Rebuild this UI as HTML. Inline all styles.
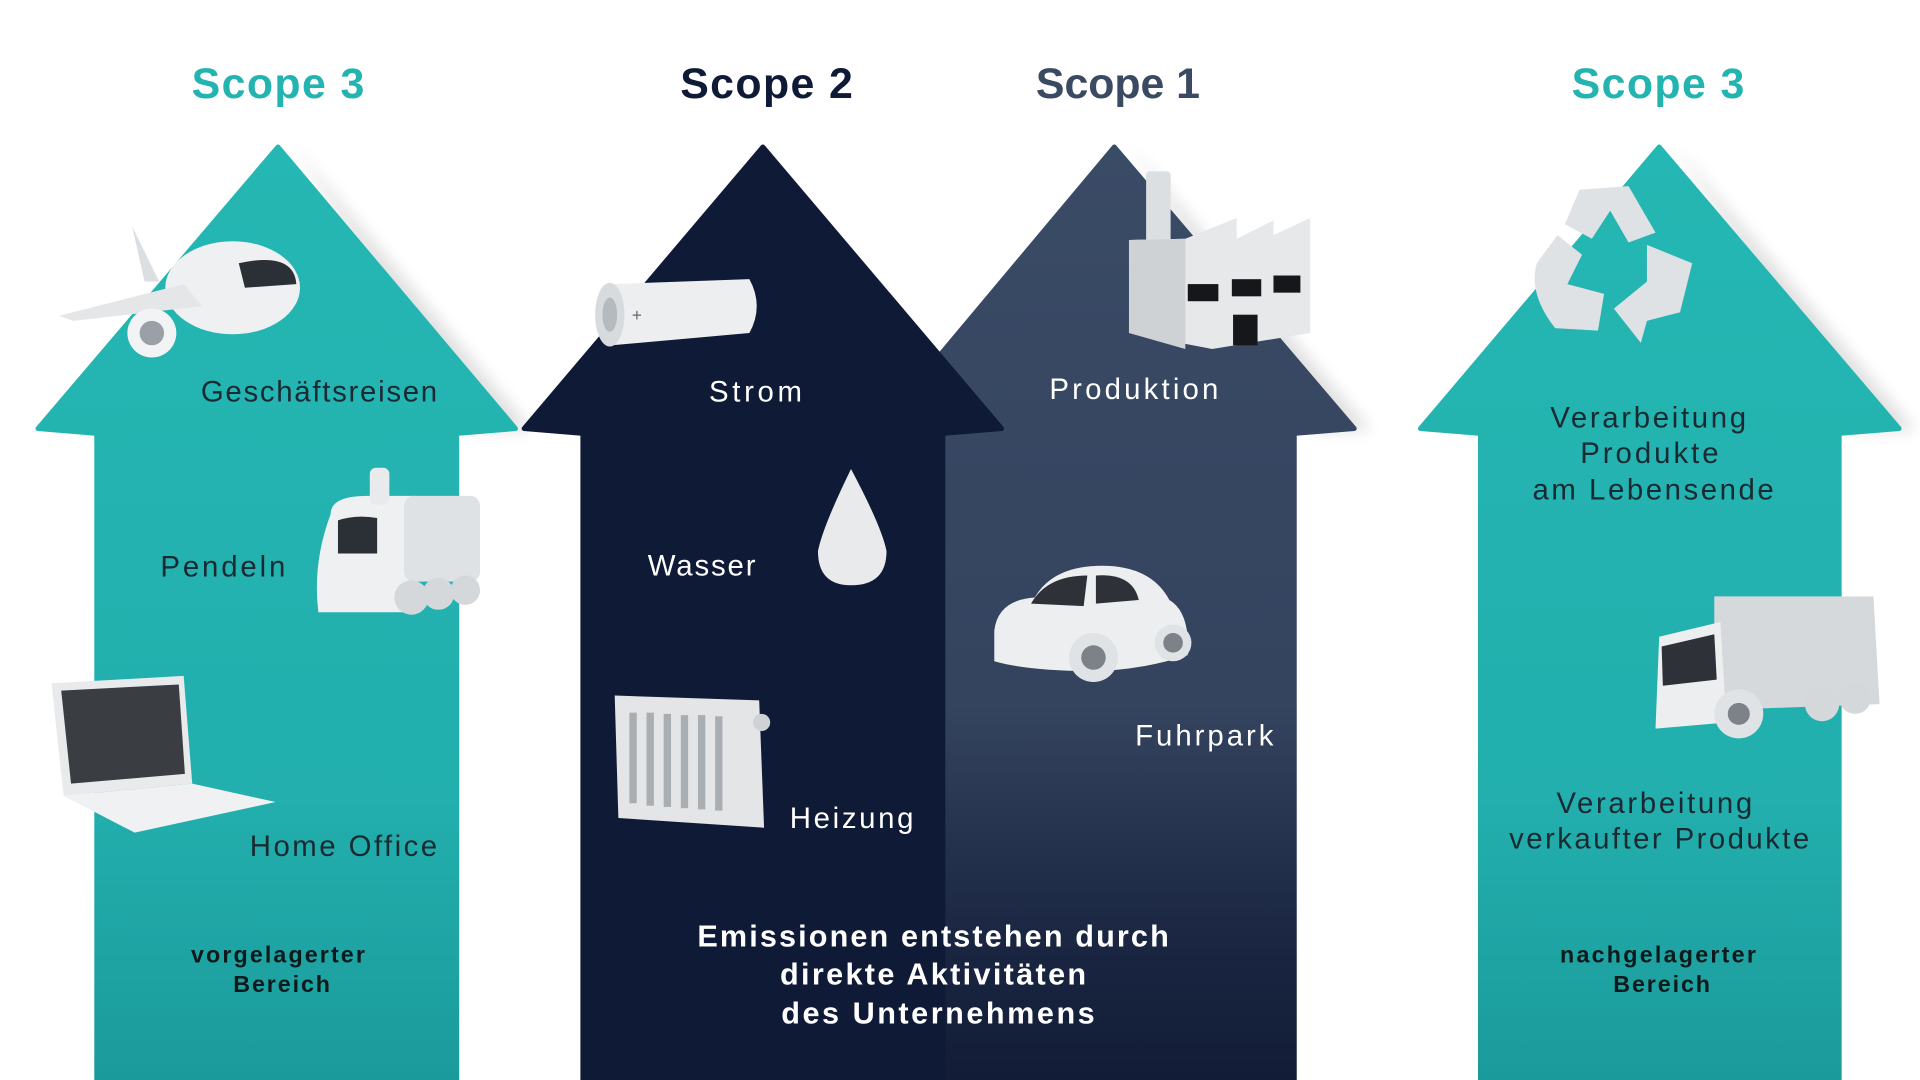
<!DOCTYPE html>
<html><head><meta charset="utf-8"><style>
html,body{margin:0;padding:0;background:#fff;width:1920px;height:1080px;overflow:hidden}
svg{display:block}
text{font-family:"Liberation Sans",sans-serif}
</style></head><body>
<svg width="1920" height="1080" viewBox="0 0 1568 882" preserveAspectRatio="none">
<defs>
<linearGradient id="teal" x1="0" y1="0" x2="0" y2="1">
<stop offset="0" stop-color="#25b7b3"/><stop offset="0.7" stop-color="#22afad"/><stop offset="1" stop-color="#1b9a9b"/></linearGradient>
<linearGradient id="s1" x1="0" y1="0" x2="0" y2="1">
<stop offset="0" stop-color="#3a4b66"/><stop offset="0.6" stop-color="#34435e"/><stop offset="0.85" stop-color="#1a2642"/><stop offset="1" stop-color="#121c36"/></linearGradient>
<filter id="sh" x="-20%" y="-20%" width="140%" height="140%"><feGaussianBlur stdDeviation="6"/></filter>
</defs>
<g fill="#000" opacity="0.12" filter="url(#sh)">
<path d="M239 118 L435 352 L385 352 Z"/>
<path d="M922 118 L1120 352 L1070 352 Z"/>
<path d="M1367 118 L1565 352 L1515 352 Z"/>
</g>
<path d="M227 120 L421 350 L373 354 L373 882 L79 882 L79 354 L31 350 Z" fill="url(#teal)" stroke="url(#teal)" stroke-width="4" stroke-linejoin="round"/>
<path d="M910 120 L1106 350 L1057 354 L1057 882 L770 882 L770 354 L714 354 Z" fill="url(#s1)" stroke="url(#s1)" stroke-width="4" stroke-linejoin="round"/>
<path d="M623 120 L818 350 L770 354 L770 882 L476 882 L476 354 L428 350 Z" fill="#0f1a36" stroke="#0f1a36" stroke-width="4" stroke-linejoin="round"/>
<path d="M1355 120 L1551 350 L1502 354 L1502 882 L1209 882 L1209 354 L1160 350 Z" fill="url(#teal)" stroke="url(#teal)" stroke-width="4" stroke-linejoin="round"/>

<g font-weight="bold" font-size="35" text-anchor="middle" lengthAdjust="spacingAndGlyphs">
<text x="227" y="80" fill="#23b3b0" textLength="141">Scope 3</text>
<text x="626" y="80" fill="#0f1a36" textLength="141">Scope 2</text>
<text x="913" y="80" fill="#3a4a63" textLength="134">Scope 1</text>
<text x="1354" y="80" fill="#23b3b0" textLength="141">Scope 3</text>
</g>

<g>
<ellipse cx="190" cy="235" rx="55" ry="38" fill="#eef0f2"/>
<path d="M48 258 L150 232 L165 250 L60 262 Z" fill="#e4e6e8"/>
<path d="M108 185 L118 230 L130 230 Z" fill="#dcdfe2"/>
<path d="M195 215 Q240 205 242 232 L200 235 Z" fill="#2b2f36"/>
<circle cx="124" cy="272" r="20" fill="#f2f3f4"/><circle cx="124" cy="272" r="10" fill="#9aa0a6"/>
<path d="M270 420 Q270 405 300 405 L340 405 L340 500 L260 500 Q255 460 270 420 Z" fill="#eef0f2"/>
<rect x="302" y="382" width="16" height="30" rx="5" fill="#e8eaec"/>
<rect x="330" y="405" width="62" height="70" rx="8" fill="#dfe2e5"/>
<path d="M276 425 Q290 420 308 423 L308 452 L276 452 Z" fill="#2b2f36"/>
<circle cx="336" cy="488" r="14" fill="#d5d8db"/><circle cx="358" cy="485" r="13" fill="#d5d8db"/><circle cx="380" cy="482" r="12" fill="#d5d8db"/>
<path d="M42 558 L150 552 L157 640 L52 650 Z" fill="#e8eaec"/>
<path d="M50 564 L146 559 L151 632 L58 640 Z" fill="#3a3d42"/>
<path d="M52 650 L157 640 L225 655 L110 680 Z" fill="#f0f1f2"/>
<path d="M500 232 L612 228 Q624 250 612 272 L500 282 Z" fill="#eceef0"/>
<ellipse cx="498" cy="257" rx="12" ry="26" fill="#d8dbde"/>
<ellipse cx="498" cy="257" rx="6" ry="14" fill="#b5babf"/>
<text x="516" y="262" font-size="14" fill="#666">+</text>
<path d="M695 383 Q672 430 668 450 Q668 478 695 478 Q724 478 724 450 Q720 430 695 383 Z" fill="#e8eaec"/>
<path d="M502 568 L620 572 L624 676 L505 668 Z" fill="#e3e5e7"/>
<g fill="#a9aeb3"><rect x="514" y="582" width="6" height="74"/><rect x="528" y="582" width="6" height="76"/><rect x="542" y="583" width="6" height="76"/><rect x="556" y="584" width="6" height="76"/><rect x="570" y="584" width="6" height="77"/><rect x="584" y="585" width="6" height="77"/></g>
<circle cx="622" cy="590" r="7" fill="#cfd2d5"/>
<rect x="936" y="140" width="20" height="60" rx="3" fill="#dcdfe2"/>
<path d="M922 196 L968 195 L1010 178 L1010 195 L1040 180 L1040 192 L1070 178 L1070 272 L990 285 L922 272 Z" fill="#e6e8ea"/>
<path d="M922 196 L968 195 L968 285 L922 272 Z" fill="#cfd2d5"/>
<g fill="#15171a"><rect x="970" y="232" width="25" height="14"/><rect x="1006" y="228" width="24" height="14"/><rect x="1040" y="225" width="22" height="14"/><rect x="1007" y="257" width="20" height="25"/></g>
<path d="M812 515 Q815 490 845 488 Q860 462 900 462 Q940 462 955 490 Q972 500 970 535 Q930 548 890 548 Q840 548 812 540 Z" fill="#eceef0"/>
<path d="M842 493 Q855 470 888 470 L885 495 Z" fill="#2e3238"/>
<path d="M895 470 Q925 468 930 490 L895 493 Z" fill="#2e3238"/>
<circle cx="893" cy="537" r="20" fill="#e0e3e6"/><circle cx="893" cy="537" r="10" fill="#7c8288"/>
<circle cx="958" cy="525" r="15" fill="#e0e3e6"/><circle cx="958" cy="525" r="8" fill="#7c8288"/>
<g fill="#dfe2e5">
<path d="M1290 155 L1330 152 L1352 190 L1330 198 L1315 172 L1300 195 L1278 183 Z"/>
<path d="M1345 200 L1382 215 L1372 255 L1345 262 L1340 280 L1318 252 L1345 230 Z"/>
<path d="M1255 215 L1272 192 L1292 208 L1280 232 L1310 240 L1305 270 L1270 268 Q1248 240 1255 215 Z"/>
</g>
<path d="M1400 487 L1530 487 L1535 575 L1400 580 Z" fill="#d6d9dc"/>
<path d="M1355 520 L1405 508 L1410 590 L1352 595 Z" fill="#eceef0"/>
<path d="M1357 528 L1400 518 L1402 555 L1358 560 Z" fill="#2e3238"/>
<circle cx="1420" cy="583" r="20" fill="#e0e3e6"/><circle cx="1420" cy="583" r="9" fill="#7c8288"/>
<circle cx="1488" cy="575" r="14" fill="#d5d8db"/><circle cx="1515" cy="570" r="13" fill="#d5d8db"/>
</g>

<g font-size="24" lengthAdjust="spacingAndGlyphs">
<text x="164" y="328" fill="#1a2a33" textLength="193">Geschäftsreisen</text>
<text x="131" y="471" fill="#1a2a33" textLength="102">Pendeln</text>
<text x="204" y="699" fill="#1a2a33" textLength="153">Home Office</text>
<text x="579" y="328" fill="#fff" textLength="76">Strom</text>
<text x="529" y="470" fill="#fff" textLength="88">Wasser</text>
<text x="645" y="676" fill="#fff" textLength="101">Heizung</text>
<text x="857" y="326" fill="#fff" textLength="138">Produktion</text>
<text x="927" y="609" fill="#fff" textLength="113">Fuhrpark</text>
<g text-anchor="middle" fill="#1a2a33">
<text x="1346" y="349" textLength="160">Verarbeitung</text>
<text x="1347" y="378" textLength="113">Produkte</text>
<text x="1350" y="408" textLength="197">am Lebensende</text>
<text x="1351" y="664" textLength="160">Verarbeitung</text>
<text x="1355" y="693" textLength="245">verkaufter Produkte</text>
</g>
</g>
<g font-size="19" font-weight="bold" text-anchor="middle" fill="#0d1a1c" lengthAdjust="spacingAndGlyphs">
<text x="227" y="786" textLength="142">vorgelagerter</text>
<text x="230" y="810" textLength="79">Bereich</text>
<text x="1354" y="786" textLength="160">nachgelagerter</text>
<text x="1357" y="810" textLength="79">Bereich</text>
</g>
<g font-size="25" font-weight="bold" text-anchor="middle" fill="#fff" lengthAdjust="spacingAndGlyphs">
<text x="762" y="773" textLength="385">Emissionen entstehen durch</text>
<text x="762" y="804" textLength="250">direkte Aktivitäten</text>
<text x="766" y="836" textLength="256">des Unternehmens</text>
</g>
</svg>
</body></html>
